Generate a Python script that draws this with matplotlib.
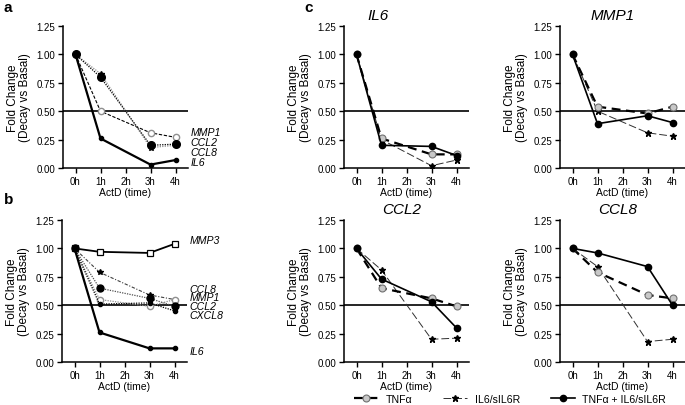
import matplotlib

matplotlib.use("Agg")
import matplotlib.pyplot as plt
from matplotlib.lines import Line2D

plt.rcParams["font.family"] = ["Liberation Sans", "DejaVu Sans"]

TIME = [0, 1, 3, 4]
TICKS = [0, 1, 2, 3, 4]
TICK_LABELS = ["0h", "1h", "2h", "3h", "4h"]
Y_TICKS = [0.0, 0.25, 0.5, 0.75, 1.0, 1.25]

# panel a: IL6/sIL6R
A_IL6 = [1.0, 0.26, 0.03, 0.07]
A_MMP1 = [1.0, 0.50, 0.31, 0.27]
A_CCL2 = [1.0, 0.80, 0.20, 0.21]
A_CCL8 = [1.0, 0.83, 0.18, 0.20]

# panel b: TNFa
B_MMP3 = [1.0, 0.97, 0.96, 1.04]
B_CCL8 = [1.0, 0.79, 0.59, 0.55]
B_MMP1 = [1.0, 0.55, 0.49, 0.55]
B_CCL2 = [1.0, 0.65, 0.56, 0.49]
B_CXCL8 = [1.0, 0.51, 0.52, 0.45]
B_IL6 = [1.0, 0.26, 0.12, 0.12]

# panel c: genes x treatments
C_GENES = ["IL6", "MMP1", "CCL2", "CCL8"]
C_TNF = {
    "IL6": [1.0, 0.26, 0.12, 0.12],
    "MMP1": [1.0, 0.54, 0.48, 0.54],
    "CCL2": [1.0, 0.65, 0.56, 0.49],
    "CCL8": [1.0, 0.79, 0.59, 0.56],
}
C_IL6R = {
    "IL6": [1.0, 0.25, 0.02, 0.07],
    "MMP1": [1.0, 0.50, 0.31, 0.28],
    "CCL2": [1.0, 0.81, 0.20, 0.21],
    "CCL8": [1.0, 0.84, 0.18, 0.20],
}
C_COMBO = {
    "IL6": [1.0, 0.20, 0.19, 0.11],
    "MMP1": [1.0, 0.39, 0.46, 0.40],
    "CCL2": [1.0, 0.73, 0.53, 0.30],
    "CCL8": [1.0, 0.96, 0.84, 0.50],
}
TREATMENTS = ["TNF\u03b1", "IL6/sIL6R", "TNF\u03b1 + IL6/sIL6R"]

W, H = 685, 406

STYLE_TNF = dict(color="black", lw=1.6, ls=(0, (4, 2.5)), marker="o", ms=5,
                 mfc="#c8c8c8", mec="#707070", mew=0.8)
STYLE_IL6R = dict(color="#303030", lw=0.7, ls=(0, (8, 3)), marker="*", ms=5,
                  mfc="black", mec="black")
STYLE_COMBO = dict(color="black", lw=1.2, ls="-", marker="o", ms=4.5,
                   mfc="black", mec="black")


def make_axes(fig, left, top):
    ax = fig.add_axes([left / W, 1 - (top + 142) / H, 125 / W, 142 / H])
    ax.set_xlim(-0.5, 4.5)
    ax.set_ylim(0, 1.25)
    ax.set_xticks(TICKS)
    ax.set_xticklabels(TICK_LABELS)
    ax.set_yticks(Y_TICKS)
    ax.set_yticklabels([f"{v:.2f}" for v in Y_TICKS])
    for side in ("top", "right"):
        ax.spines[side].set_visible(False)
    for side in ("left", "bottom"):
        ax.spines[side].set_linewidth(1.1)
    ax.tick_params(direction="out", length=3.5, width=1, labelsize=7, pad=2)
    ax.axhline(0.5, color="black", lw=1.2, zorder=1)
    ax.set_xlabel("ActD (time)", fontsize=7.5, labelpad=1)
    ax.set_ylabel("Fold Change\n(Decay vs Basal)", fontsize=8.5, labelpad=4,
                  linespacing=1.0)
    return ax


def gene_labels(ax, labels):
    for text, y in labels:
        ax.text(4.6, y, text, fontsize=7.6, style="italic", va="center",
                ha="left", clip_on=False)


fig = plt.figure(figsize=(W / 100, H / 100), dpi=100)

# panel a
ax = make_axes(fig, 63, 27)
ax.plot(TIME, A_MMP1, color="black", lw=0.8, ls=(0, (3, 1.5)), marker="o", ms=4.5,
        mfc="white", mec="#909090", mew=1.0)
ax.plot(TIME, A_CCL8, color="#909090", lw=0.9, ls=(0, (1, 1)), marker="*", ms=4,
        mfc="black", mec="black")
ax.plot(TIME, A_CCL2, color="black", lw=0.9, ls=(0, (1, 1)), marker="o", ms=5.5,
        mfc="black", mec="black")
ax.plot(TIME, A_IL6, color="black", lw=1.6, marker="o", ms=3, mfc="black", mec="black")
gene_labels(ax, [("MMP1", 0.32), ("CCL2", 0.23), ("CCL8", 0.14), ("IL6", 0.05)])

# panel b
ax = make_axes(fig, 62, 221)
ax.plot(TIME, B_MMP3, color="black", lw=1.3, marker="s", ms=4, mfc="white",
        mec="black", mew=0.9)
ax.plot(TIME, B_CCL8, color="#404040", lw=0.8, ls=(0, (3, 1.5, 1, 1.5)), marker="*",
        ms=4, mfc="black", mec="black")
ax.plot(TIME, B_MMP1, color="#909090", lw=0.9, ls=(0, (1, 1)), marker="o", ms=4.5,
        mfc="white", mec="#909090", mew=1.0)
ax.plot(TIME, B_CCL2, color="#505050", lw=0.9, ls=(0, (1, 1)), marker="o", ms=5,
        mfc="black", mec="black")
ax.plot(TIME, B_CXCL8, color="black", lw=0.9, ls=(0, (1, 1)), marker="o", ms=3,
        mfc="black", mec="black")
ax.plot(TIME, B_IL6, color="black", lw=1.6, marker="o", ms=3, mfc="black", mec="black")
gene_labels(ax, [("MMP3", 1.07), ("CCL8", 0.645), ("MMP1", 0.568),
                 ("CCL2", 0.49), ("CXCL8", 0.413), ("IL6", 0.10)])

# panel c
c_pos = {"IL6": (344, 27), "MMP1": (560, 27), "CCL2": (344, 221), "CCL8": (560, 221)}
title_x = {"IL6": 0.27, "MMP1": 0.42, "CCL2": 0.46, "CCL8": 0.46}
for gene in C_GENES:
    ax = make_axes(fig, *c_pos[gene])
    ax.plot(TIME, C_TNF[gene], **STYLE_TNF, zorder=3)
    ax.plot(TIME, C_IL6R[gene], **STYLE_IL6R, zorder=2)
    ax.plot(TIME, C_COMBO[gene], **STYLE_COMBO, zorder=4)
    ax.text(title_x[gene], 1.075, gene, transform=ax.transAxes, fontsize=11,
            style="italic", ha="center", va="center")

handles = [
    Line2D([], [], **STYLE_TNF),
    Line2D([], [], **STYLE_IL6R),
    Line2D([], [], **STYLE_COMBO),
]
fig.legend(handles, TREATMENTS, loc="center", bbox_to_anchor=(510 / W, 1 - 400 / H),
           ncol=3, frameon=False, fontsize=7.6, handlelength=2.3, columnspacing=2.9,
           handletextpad=0.7, borderpad=0.2)

fig.text(4 / W, 1 - 8 / H, "a", fontsize=11, fontweight="bold", va="center")
fig.text(4 / W, 1 - 200 / H, "b", fontsize=11, fontweight="bold", va="center")
fig.text(304 / W, 1 - 8 / H, "c", fontsize=11, fontweight="bold", va="center")

fig.savefig("out.png", dpi=100)
